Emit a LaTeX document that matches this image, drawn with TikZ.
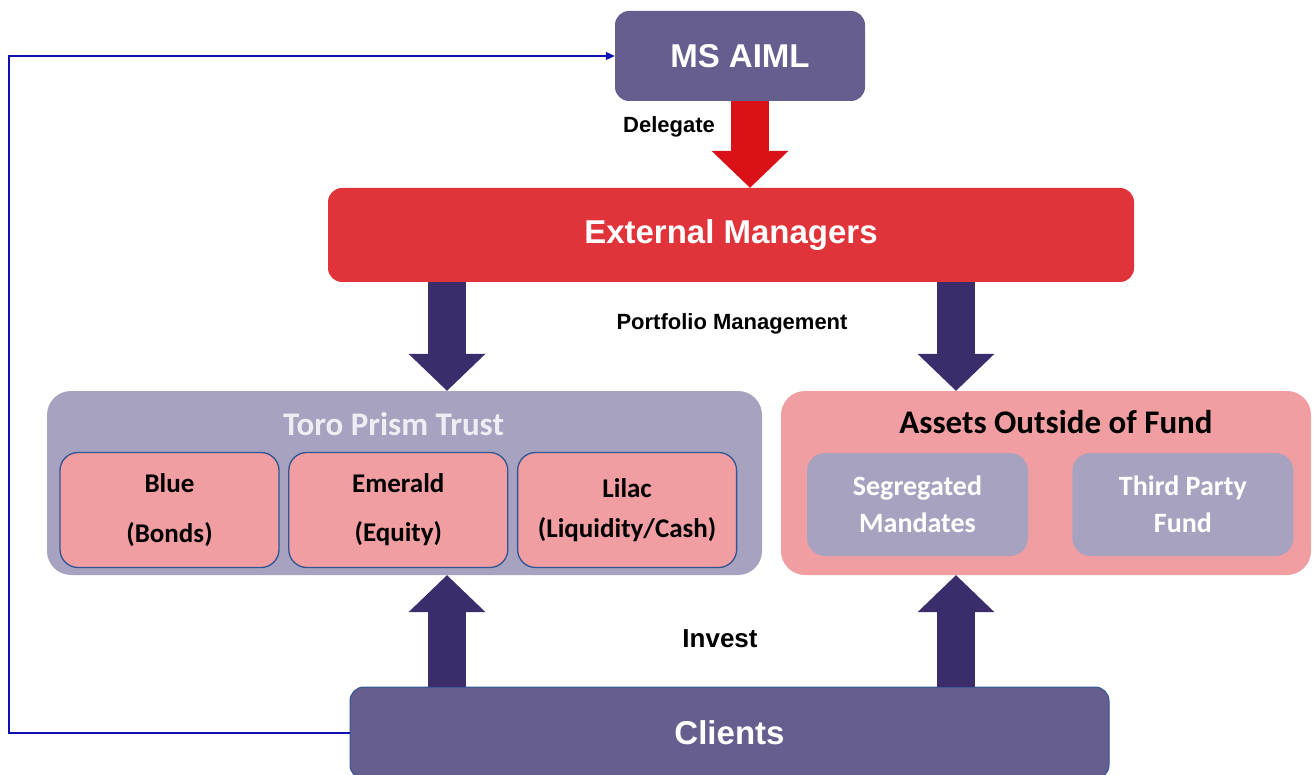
\documentclass[tikz,border=0pt]{standalone}
\usepackage{fontspec}
\setmainfont{Liberation Sans}
\newfontfamily\carlito{Carlito}
\usepackage{tikz}
\usetikzlibrary{arrows.meta, positioning}
\definecolor{aimlpurple}{HTML}{655E8E}
\definecolor{extred}{HTML}{E0333A}
\definecolor{delegred}{HTML}{DA1217}
\definecolor{navyarrow}{HTML}{3B2C6B}
\definecolor{lavender}{HTML}{A7A2BF}
\definecolor{pinkfill}{HTML}{F19EA2}
\definecolor{edgeblue}{HTML}{2F5597}
\definecolor{loopblue}{HTML}{1010B0}
\definecolor{titlegrey}{HTML}{EEEDF3}
\tikzstyle{box} = [rectangle, rounded corners=14pt, text=white, font=\bfseries\fontsize{33}{38}\selectfont]
\tikzstyle{fundbox} = [rectangle, rounded corners=24pt, minimum height=184pt]
\tikzstyle{heading} = [anchor=base, font=\carlito\bfseries\fontsize{33}{38}\selectfont]
\tikzstyle{sleeve} = [rectangle, rounded corners=18pt, draw=edgeblue, line width=1.3pt, fill=pinkfill, minimum width=219pt, minimum height=115pt, font=\carlito\bfseries\fontsize{27}{30}\selectfont]
\tikzstyle{mandate} = [rectangle, rounded corners=18pt, fill=lavender, text=white, minimum width=221pt, minimum height=103pt, font=\carlito\bfseries\fontsize{28}{30}\selectfont]
\tikzstyle{tag} = [anchor=base, font=\bfseries\fontsize{22}{26}\selectfont]
\tikzstyle{fatarrow} = [line width=38pt, -{Triangle[width=77pt, length=37pt, line width=0pt]}]
\tikzstyle{feedback} = [color=loopblue, line width=1.1pt, -{Triangle[width=8pt, length=9pt]}]
\tikzset{every node/.style={align=center}}

\begin{document}
\begin{tikzpicture}[x=1pt, y=-1pt]
    \useasboundingbox (0,0) rectangle (1314,775);

    \node (aiml) [box, fill=aimlpurple, minimum width=250pt, minimum height=90pt] at (740,56) {MS AIML};
    \node (extm) [box, fill=extred, minimum width=806pt, minimum height=94pt] at (731,235) {External Managers};

    % the two fund boxes
    \node (toro) [fundbox, fill=lavender, minimum width=715pt] at (404.5,483) {};
    \node (assets) [fundbox, fill=pinkfill, minimum width=530pt] at (1046,483) {};
    \node (torotitle) [heading, text=titlegrey] at (393.5,435) {Toro Prism Trust};
    \node (assetstitle) [heading] at (1056,433) {Assets Outside of Fund};

    \node (blue) [sleeve] at (169.5,510) {Blue\\[20pt](Bonds)};
    \node (emerald) [sleeve, right=8.5pt of blue] {Emerald\\[19pt](Equity)};
    \node (lilac) [sleeve, right=8.5pt of emerald] {Lilac\\[10pt](Liquidity/Cash)};
    \node (seg) [mandate] at (917.5,504.5) {Segregated\\[7pt]Mandates};
    \node (third) [mandate, right=44pt of seg] {Third Party\\[7pt]Fund};

    \node (clients) [box, fill=aimlpurple, draw=edgeblue, line width=1pt, minimum width=759pt, minimum height=92pt] at (729.5,733) {Clients};

    \coordinate (redlane) at (750,0);
    \coordinate (leftlane) at (447,0);
    \coordinate (rightlane) at (956,0);
    \coordinate (loopx) at (9,0);

    \draw [fatarrow, delegred] (aiml.south -| redlane) -- (extm.north -| redlane);
    \draw [fatarrow, navyarrow] (extm.south -| leftlane) -- (toro.north -| leftlane);
    \draw [fatarrow, navyarrow] (extm.south -| rightlane) -- (assets.north -| rightlane);
    \draw [fatarrow, navyarrow] (clients.north -| leftlane) -- (toro.south -| leftlane);
    \draw [fatarrow, navyarrow] (clients.north -| rightlane) -- (assets.south -| rightlane);
    \draw [feedback] (clients.west) -- (clients.west -| loopx) |- (aiml.west);

    \node (delegate) [tag] at (669,133) {Delegate};
    \node (pm) [tag] at (732,330) {Portfolio Management};
    \node (invest) [tag, font=\bfseries\fontsize{26}{30}\selectfont] at (720,647) {Invest};
\end{tikzpicture}
\end{document}
